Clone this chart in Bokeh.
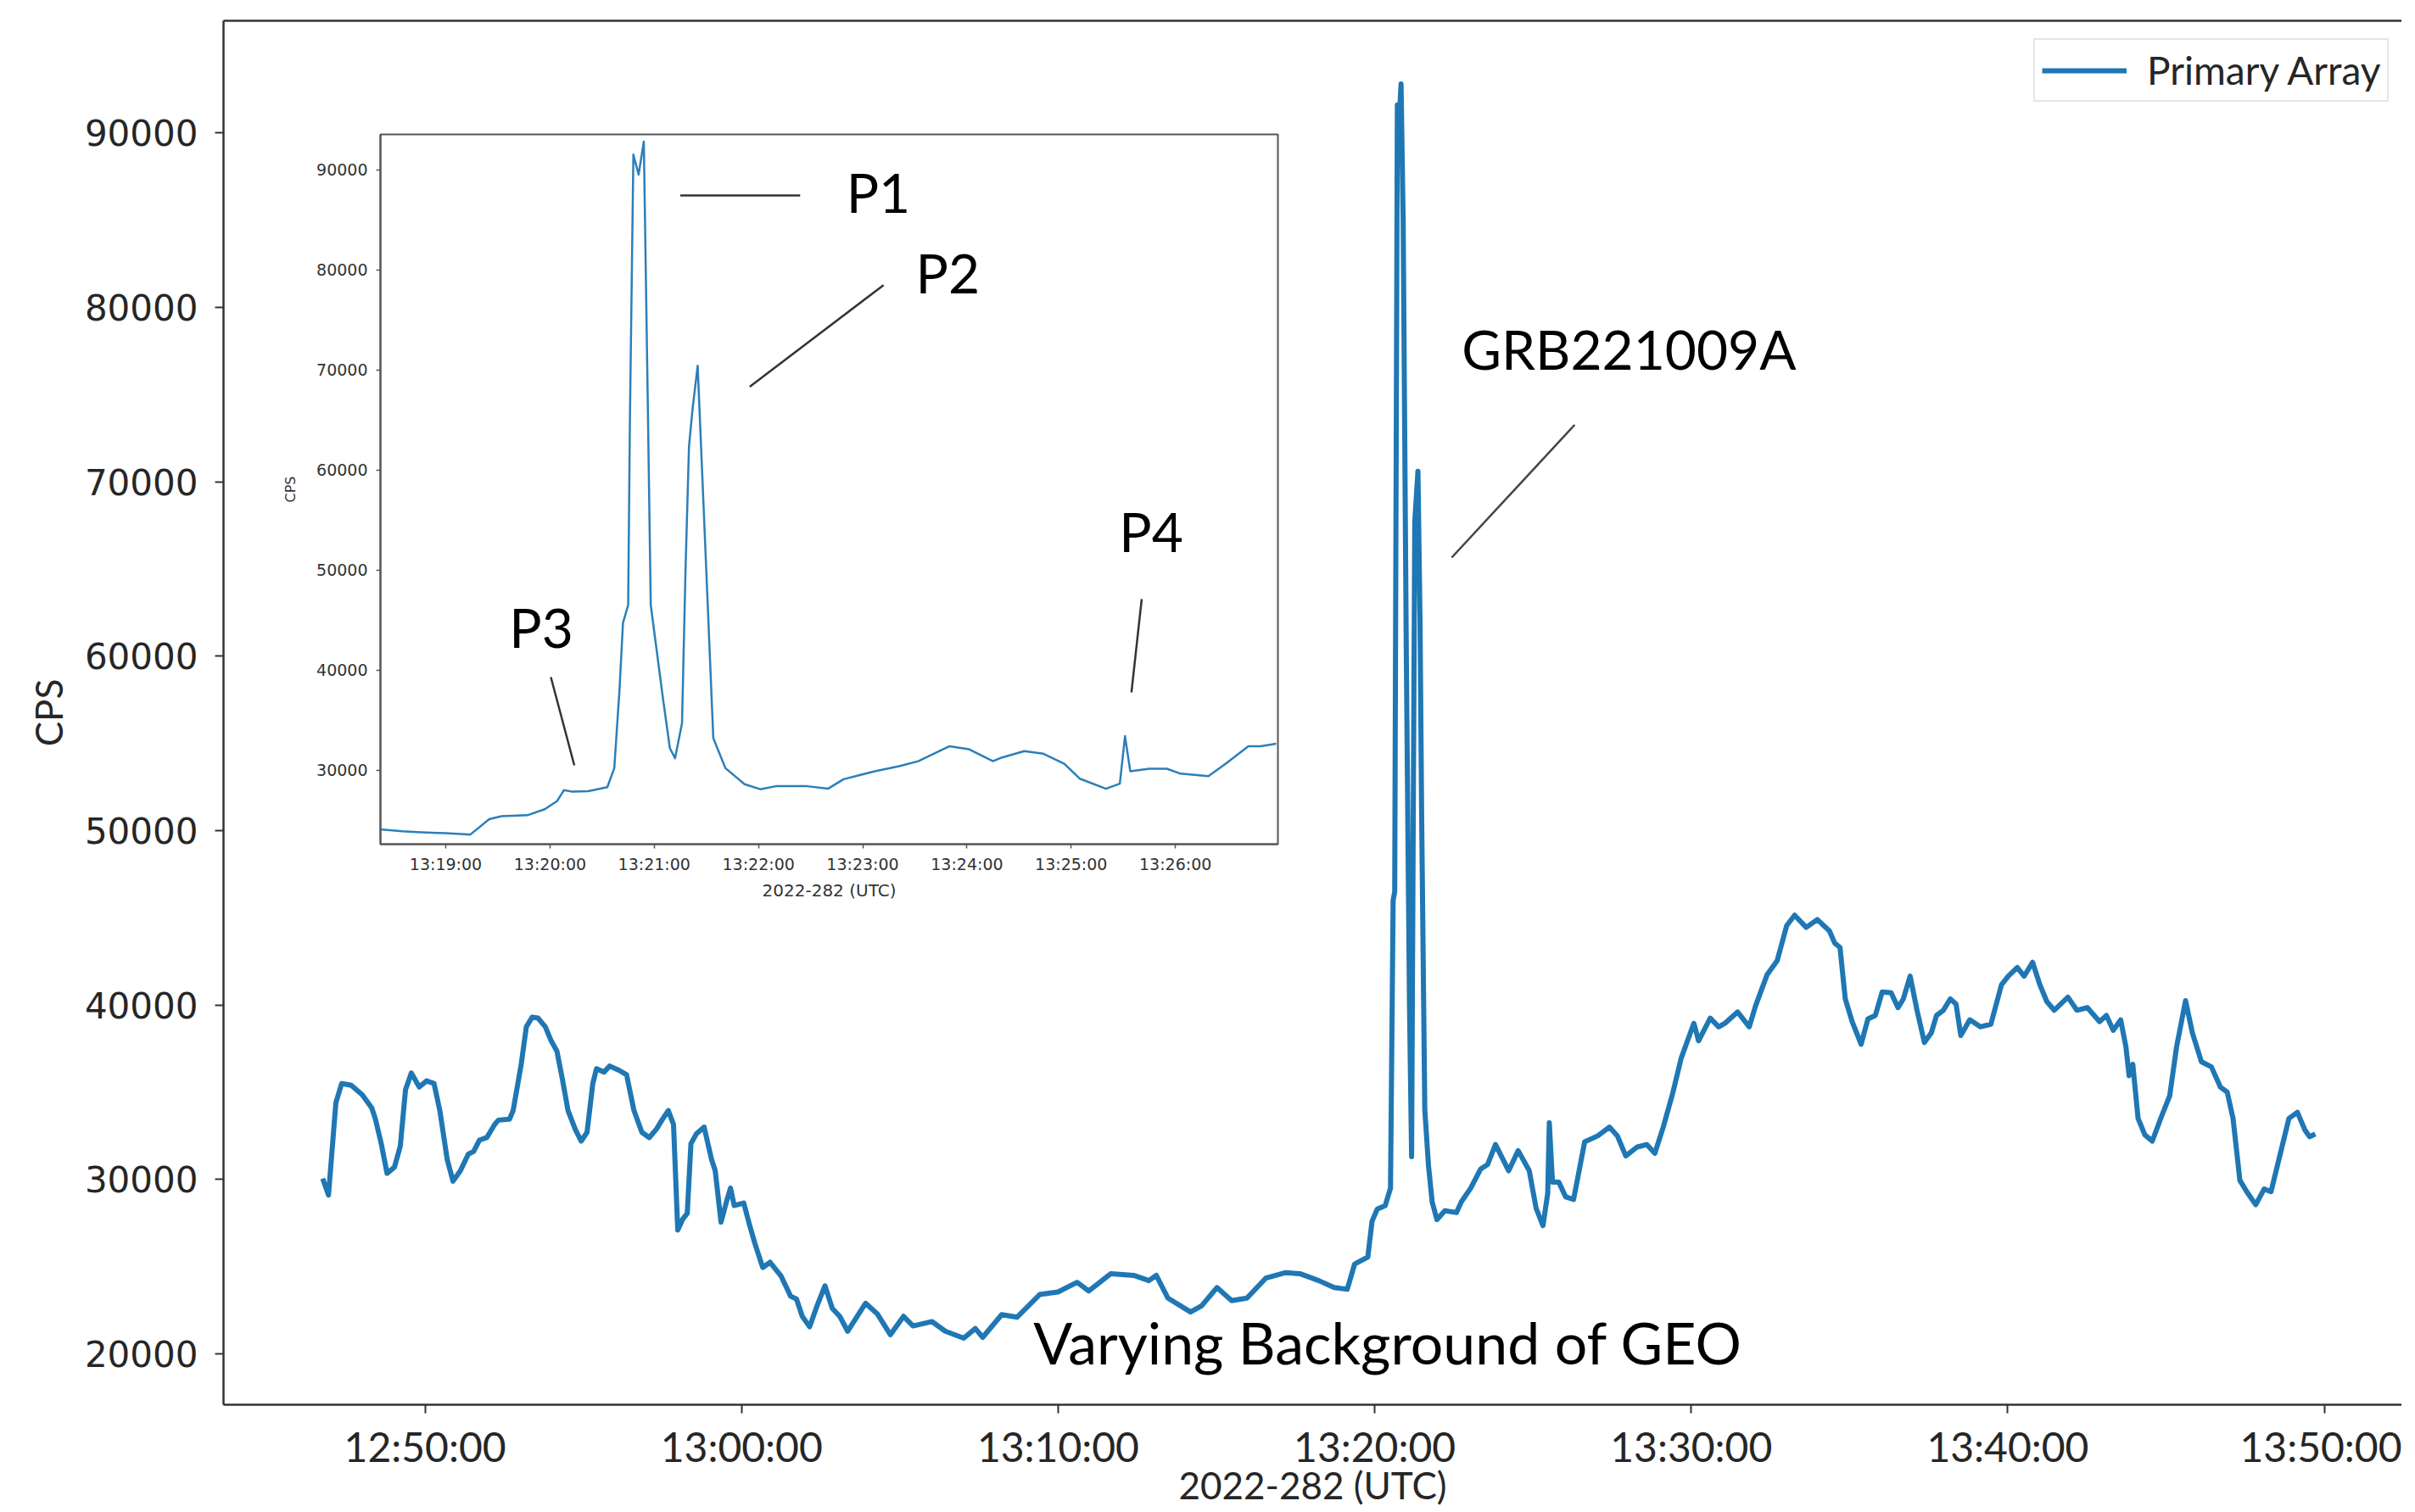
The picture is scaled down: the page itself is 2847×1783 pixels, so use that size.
import pandas as pd
from bokeh.plotting import figure
from bokeh.models import (FixedTicker, DatetimeTickFormatter, NumeralTickFormatter, Range1d,
                          Label, Arrow, Legend, LegendItem, LinearAxis)
from bokeh.layouts import column
from bokeh.embed import file_html
from bokeh.resources import INLINE

DAY = "2022-10-09 "  # day 282 of 2022

# ---------------- main series (Primary Array, CPS) ----------------
main_times = [
    "12:46:46", "12:46:57", "12:47:11", "12:47:22", "12:47:40", "12:48:01", "12:48:19", "12:48:26",
    "12:48:37", "12:48:48", "12:49:02", "12:49:13", "12:49:23", "12:49:34", "12:49:49", "12:50:03",
    "12:50:17", "12:50:28", "12:50:42", "12:50:53", "12:51:07", "12:51:22", "12:51:32", "12:51:43",
    "12:51:57", "12:52:12", "12:52:19", "12:52:40", "12:52:47", "12:53:02", "12:53:12", "12:53:23",
    "12:53:34", "12:53:48", "12:53:59", "12:54:10", "12:54:20", "12:54:31", "12:54:45", "12:54:56",
    "12:55:07", "12:55:18", "12:55:25", "12:55:39", "12:55:50", "12:56:08", "12:56:22", "12:56:36",
    "12:56:51", "12:57:05", "12:57:19", "12:57:30", "12:57:41", "12:57:51", "12:57:59", "12:58:09",
    "12:58:17", "12:58:24", "12:58:34", "12:58:49", "12:59:03", "12:59:10", "12:59:21", "12:59:32",
    "12:59:39", "12:59:46", "13:00:04", "13:00:15", "13:00:25", "13:00:40", "13:00:54", "13:01:15",
    "13:01:33", "13:01:44", "13:01:55", "13:02:09", "13:02:23", "13:02:38", "13:02:52", "13:03:06",
    "13:03:21", "13:03:55", "13:04:17", "13:04:42", "13:05:07", "13:05:25", "13:06:01", "13:06:26",
    "13:07:01", "13:07:23", "13:07:37", "13:08:13", "13:08:42", "13:09:25", "13:10:00", "13:10:36",
    "13:10:58", "13:11:40", "13:12:23", "13:12:52", "13:13:06", "13:13:28", "13:14:11", "13:14:32",
    "13:15:01", "13:15:29", "13:15:58", "13:16:34", "13:17:10", "13:17:38", "13:18:14", "13:18:43",
    "13:19:08", "13:19:22", "13:19:47", "13:19:55", "13:20:05", "13:20:20", "13:20:30", "13:20:35",
    "13:20:38", "13:20:43", "13:20:47", "13:20:50", "13:20:54", "13:21:00", "13:21:06", "13:21:10",
    "13:21:13", "13:21:16", "13:21:22", "13:21:26", "13:21:29", "13:21:35", "13:21:42", "13:21:49",
    "13:21:58", "13:22:13", "13:22:35", "13:22:44", "13:23:02", "13:23:21", "13:23:34", "13:23:49",
    "13:24:14", "13:24:32", "13:24:53", "13:25:06", "13:25:19", "13:25:28", "13:25:31", "13:25:37",
    "13:25:49", "13:26:02", "13:26:17", "13:26:38", "13:27:03", "13:27:25", "13:27:40", "13:27:56",
    "13:28:17", "13:28:36", "13:28:51", "13:29:07", "13:29:25", "13:29:41", "13:29:53", "13:30:05",
    "13:30:14", "13:30:36", "13:30:52", "13:31:04", "13:31:28", "13:31:50", "13:32:02", "13:32:24",
    "13:32:43", "13:33:01", "13:33:16", "13:33:38", "13:33:59", "13:34:22", "13:34:32", "13:34:42",
    "13:34:52", "13:35:05", "13:35:22", "13:35:35", "13:35:49", "13:36:02", "13:36:19", "13:36:32",
    "13:36:42", "13:36:55", "13:37:08", "13:37:22", "13:37:35", "13:37:45", "13:37:58", "13:38:11",
    "13:38:22", "13:38:31", "13:38:48", "13:39:08", "13:39:28", "13:39:48", "13:40:01", "13:40:18",
    "13:40:31", "13:40:47", "13:41:01", "13:41:14", "13:41:28", "13:41:54", "13:42:11", "13:42:31",
    "13:42:54", "13:43:07", "13:43:20", "13:43:34", "13:43:44", "13:43:50", "13:43:57", "13:44:07",
    "13:44:20", "13:44:34", "13:44:50", "13:45:07", "13:45:20", "13:45:37", "13:45:50", "13:46:07",
    "13:46:26", "13:46:43", "13:46:56", "13:47:07", "13:47:20", "13:47:33", "13:47:50", "13:48:06",
    "13:48:19", "13:48:32", "13:48:53", "13:49:09", "13:49:23", "13:49:32", "13:49:43",
]
main_cps = [
    30050, 29100, 34400, 35500, 35400, 34850, 34100, 33450,
    32050, 30350, 30700, 31900, 35150, 36100, 35300, 35650,
    35500, 33950, 31150, 29900, 30500, 31450, 31600, 32250,
    32400, 33150, 33400, 33450, 33950, 36550, 38750, 39300,
    39250, 38750, 37950, 37350, 35800, 33950, 32850, 32200,
    32700, 35500, 36350, 36150, 36500, 36250, 36000, 33950,
    32700, 32400, 32900, 33450, 33950, 33150, 27100, 27750,
    28050, 32050, 32600, 33000, 31150, 30500, 27550, 28800,
    29500, 28500, 28650, 27400, 26350, 24950, 25250, 24450,
    23300, 23150, 22150, 21550, 22750, 23900, 22600, 22150,
    21300, 22900, 22300, 21100, 22150, 21600, 21850, 21300,
    20900, 21450, 20950, 22250, 22100, 23400, 23550, 24100,
    23600, 24600, 24500, 24200, 24500, 23200, 22400, 22750,
    23800, 23050, 23200, 24350, 24650, 24600, 24200, 23800,
    23700, 25150, 25550, 27600, 28300, 28500, 29500, 46000,
    46500, 91600, 91000, 92800, 85000, 60000, 40000, 31300,
    50000, 67700, 70600, 62000, 51000, 34000, 30800, 28700,
    27700, 28200, 28100, 28700, 29500, 30600, 30850, 32000,
    30500, 31650, 30500, 28350, 27350, 29200, 33250, 29850,
    29850, 29000, 28850, 32150, 32500, 33000, 32500, 31350,
    31850, 32000, 31500, 33000, 34950, 36950, 37950, 38950,
    37950, 39250, 38750, 38950, 39600, 38750, 39950, 41750,
    42550, 44550, 45150, 44450, 44900, 44250, 43550, 43300,
    40350, 39050, 37750, 39200, 39400, 40750, 40700, 39850,
    40350, 41650, 39700, 37850, 38400, 39400, 39700, 40350,
    40050, 38250, 39150, 38750, 38900, 41150, 41650, 42150,
    41650, 42450, 41150, 40200, 39700, 40450, 39700, 39850,
    39050, 39400, 38550, 39150, 37600, 35950, 36600, 33500,
    32550, 32200, 33500, 34800, 37600, 40250, 38400, 36750,
    36450, 35300, 35000, 33500, 29950, 29300, 28550, 29450,
    29300, 30900, 33500, 33850, 32850, 32450, 32600,
]

# ---------------- inset series (zoom on the burst) ----------------
inset_times = [
    "13:18:22", "13:18:35", "13:18:46", "13:19:00", "13:19:11", "13:19:14", "13:19:25", "13:19:32",
    "13:19:47", "13:19:57", "13:20:04", "13:20:08", "13:20:13", "13:20:22", "13:20:33", "13:20:37",
    "13:20:40", "13:20:42", "13:20:45", "13:20:46", "13:20:48", "13:20:51", "13:20:54", "13:20:56",
    "13:20:58", "13:21:05", "13:21:09", "13:21:12", "13:21:16", "13:21:18", "13:21:20", "13:21:22",
    "13:21:25", "13:21:30", "13:21:34", "13:21:41", "13:21:52", "13:22:01", "13:22:10", "13:22:28",
    "13:22:40", "13:22:49", "13:23:07", "13:23:21", "13:23:32", "13:23:50", "13:24:01", "13:24:15",
    "13:24:19", "13:24:33", "13:24:44", "13:24:56", "13:25:05", "13:25:20", "13:25:28", "13:25:31",
    "13:25:34", "13:25:45", "13:25:55", "13:26:03", "13:26:19", "13:26:29", "13:26:42", "13:26:49",
    "13:26:58",
]
inset_cps = [
    24100, 23900, 23800, 23700, 23600, 23550, 25100, 25400,
    25500, 26100, 26900, 28000, 27850, 27900, 28300, 30200,
    38000, 44700, 46500, 65000, 91500, 89500, 92800, 70000,
    46500, 37200, 32200, 31200, 34700, 50000, 62300, 66000,
    70400, 49800, 33200, 30200, 28600, 28100, 28400, 28400,
    28150, 29100, 29900, 30400, 30900, 32400, 32100, 30900,
    31200, 31900, 31650, 30650, 29150, 28150, 28650, 33400,
    29900, 30150, 30150, 29650, 29400, 30650, 32400, 32400,
    32650,
]

main_xticks = ["12:50:00", "13:00:00", "13:10:00", "13:20:00", "13:30:00", "13:40:00", "13:50:00"]
main_yticks = [20000, 30000, 40000, 50000, 60000, 70000, 80000, 90000]
inset_xticks = ["13:19:00", "13:20:00", "13:21:00", "13:22:00", "13:23:00", "13:24:00", "13:25:00", "13:26:00"]
inset_yticks = [30000, 40000, 50000, 60000, 70000, 80000, 90000]


def ms(s):
    return pd.Timestamp(DAY + s).value / 1e6


def dts(lst):
    return [ms(s) for s in lst]


def tformatter():
    f = "%H:%M:%S"
    return DatetimeTickFormatter(microseconds=f, milliseconds=f, seconds=f, minsec=f, minutes=f,
                                 hourmin=f, hours=f, days=f, months=f, years=f)


BLUE = "#1f77b4"
SPINE = "#333333"
ANN_FONT = "Lato"

# ---------------- main figure ----------------
MAIN_H = 1780
p = figure(width=2831, height=MAIN_H, x_axis_type="datetime",
           x_range=Range1d(ms("12:43:38"), ms("13:52:27")), y_range=Range1d(17083, 96427),
           output_backend="svg", toolbar_location=None,
           min_border_left=263, min_border_right=0, min_border_top=24, min_border_bottom=124)
p.frame_align = False
p.outline_line_color = None
p.xgrid.visible = False
p.ygrid.visible = False
p.background_fill_color = "white"
p.border_fill_color = "white"

r_main = p.line(x=dts(main_times), y=main_cps, line_color=BLUE, line_width=6, line_join="round")

for ax in (p.xaxis[0], p.yaxis[0]):
    ax.axis_line_color = SPINE
    ax.axis_line_width = 2.5
    ax.major_tick_line_color = SPINE
    ax.major_tick_line_width = 2
    ax.major_tick_out = 10
    ax.major_tick_in = 0
    ax.minor_tick_line_color = None
    ax.major_label_text_color = "#262626"
    ax.axis_label_text_color = "#262626"
    ax.axis_label_text_font_style = "normal"

p.xaxis[0].ticker = FixedTicker(ticks=dts(main_xticks))
p.xaxis[0].formatter = tformatter()
p.xaxis[0].major_label_text_font = ANN_FONT
p.xaxis[0].major_label_text_font_size = "48px"
p.xaxis[0].major_label_standoff = 10
p.xaxis[0].axis_label = "2022-282 (UTC)"
p.xaxis[0].axis_label_text_font = ANN_FONT
p.xaxis[0].axis_label_text_font_size = "44px"
p.xaxis[0].axis_label_standoff = -12

p.yaxis[0].ticker = FixedTicker(ticks=main_yticks)
p.yaxis[0].formatter = NumeralTickFormatter(format="0")
p.yaxis[0].major_label_text_font = "DejaVu Sans"
p.yaxis[0].major_label_text_font_size = "42px"
p.yaxis[0].major_label_standoff = 20
p.yaxis[0].axis_label = "CPS"
p.yaxis[0].axis_label_text_font = ANN_FONT
p.yaxis[0].axis_label_text_font_size = "44px"
p.yaxis[0].axis_label_standoff = 14

top_spine = LinearAxis(ticker=FixedTicker(ticks=[]), major_label_text_font_size="0px",
                       major_tick_out=0, major_tick_in=0, minor_tick_out=0, minor_tick_in=0,
                       major_label_standoff=0, axis_line_color=SPINE, axis_line_width=2.5)
p.add_layout(top_spine, "above")

legend = Legend(items=[LegendItem(label="Primary Array", renderers=[r_main])],
                location=(2134, 1536), label_text_font=ANN_FONT, label_text_font_size="46px",
                label_text_color="#262626", glyph_width=100, glyph_height=30, label_standoff=24,
                padding=8, border_line_color="#cccccc", border_line_width=2,
                background_fill_color="white", background_fill_alpha=1.0)
p.add_layout(legend, "center")

p.add_layout(Label(x=ms("13:28:02"), y=77611, text="GRB221009A", text_align="center",
                   text_baseline="alphabetic", text_font=ANN_FONT, text_font_size="64px",
                   text_color="black"))
p.add_layout(Arrow(end=None, x_start=ms("13:22:26"), y_start=65651, x_end=ms("13:26:19"), y_end=73260,
                   line_color="#444444", line_width=2.5))
p.add_layout(Label(x=ms("13:20:25"), y=20680, text="Varying Background of GEO", text_align="center",
                   text_baseline="alphabetic", text_font=ANN_FONT, text_font_size="68px",
                   text_color="black"))

# ---------------- inset figure ----------------
inset = figure(width=1188, height=925, x_axis_type="datetime",
               x_range=Range1d(ms("13:18:22.4"), ms("13:26:59")), y_range=Range1d(22607, 93517),
               output_backend="svg", toolbar_location=None,
               min_border_left=117, min_border_right=12, min_border_top=18, min_border_bottom=70)
inset.frame_align = False
inset.outline_line_color = "#555555"
inset.outline_line_width = 2
inset.xgrid.visible = False
inset.ygrid.visible = False
inset.background_fill_color = "white"
inset.border_fill_color = "white"

inset.line(x=dts(inset_times), y=inset_cps, line_color="#2c7fb8", line_width=2.5, line_join="round")

for ax in (inset.xaxis[0], inset.yaxis[0]):
    ax.axis_line_color = "#555555"
    ax.axis_line_width = 2
    ax.major_tick_line_color = "#555555"
    ax.major_tick_line_width = 1.5
    ax.major_tick_out = 5
    ax.major_tick_in = 0
    ax.minor_tick_line_color = None
    ax.major_label_text_color = "#333333"
    ax.major_label_text_font = "DejaVu Sans"
    ax.major_label_text_font_size = "19px"
    ax.axis_label_text_color = "#333333"
    ax.axis_label_text_font = "DejaVu Sans"
    ax.axis_label_text_font_style = "normal"

inset.xaxis[0].ticker = FixedTicker(ticks=dts(inset_xticks))
inset.xaxis[0].formatter = tformatter()
inset.xaxis[0].major_label_standoff = 7
inset.xaxis[0].axis_label = "2022-282 (UTC)"
inset.xaxis[0].axis_label_text_font_size = "20px"
inset.xaxis[0].axis_label_standoff = 5
inset.yaxis[0].ticker = FixedTicker(ticks=inset_yticks)
inset.yaxis[0].formatter = NumeralTickFormatter(format="0")
inset.yaxis[0].major_label_standoff = 10
inset.yaxis[0].axis_label = "CPS"
inset.yaxis[0].axis_label_text_font_size = "16px"
inset.yaxis[0].axis_label_standoff = 18

for txt, t, v in (("P1", "13:23:09", 87756), ("P2", "13:23:49", 79708),
                  ("P3", "13:19:55", 44295), ("P4", "13:25:46", 53868)):
    inset.add_layout(Label(x=ms(t), y=v, text=txt, text_align="center", text_baseline="alphabetic",
                           text_font=ANN_FONT, text_font_size="64px", text_color="black"))

for (t0, v0, t1, v1) in (("13:21:15", 87418, "13:22:24", 87418),
                         ("13:21:55", 68313, "13:23:12", 78463),
                         ("13:20:00.5", 39297, "13:20:14", 30486),
                         ("13:25:40.6", 47091, "13:25:34.7", 37772)):
    inset.add_layout(Arrow(end=None, x_start=ms(t0), y_start=v0, x_end=ms(t1), y_end=v1,
                           line_color="#333333", line_width=2.5))

# overlay the inset on the main chart
p.margin = (0, 0, -(MAIN_H - 140), 0)
inset.margin = (0, 0, 0, 330)

layout = column(p, inset)
open("out.html", "w").write(file_html(layout, INLINE))
